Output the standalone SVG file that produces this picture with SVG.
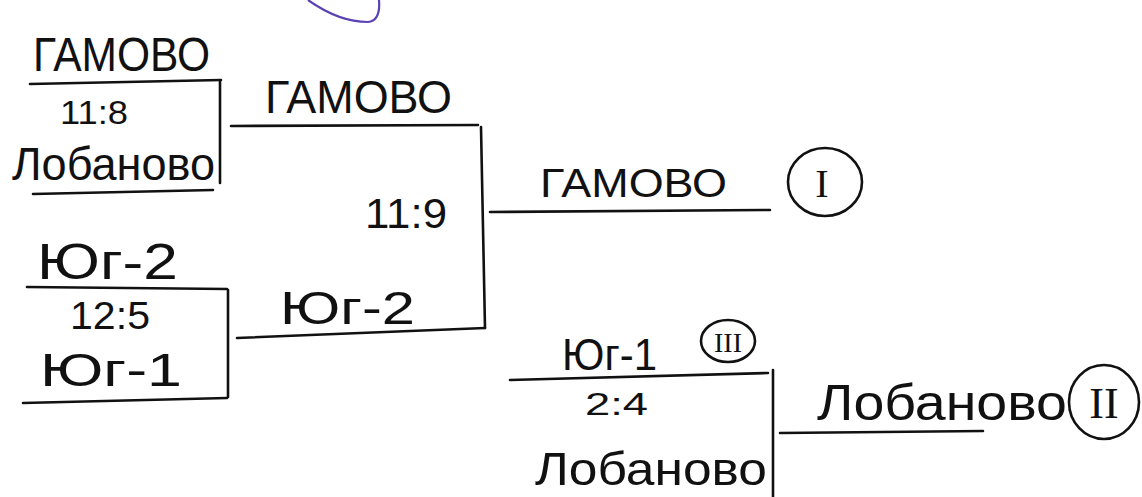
<svg xmlns="http://www.w3.org/2000/svg" width="1142" height="497" viewBox="0 0 1142 497">
<style>
.ln{stroke:#111;stroke-width:2.6;fill:none;stroke-linecap:round;stroke-linejoin:round}
.t{font-family:"Liberation Sans","DejaVu Sans",sans-serif;fill:#111}
.c{stroke:#111;stroke-width:2.6;fill:none}
.r{font-family:"Liberation Serif","DejaVu Serif",serif;fill:#111;text-anchor:middle}
</style>
<rect width="1142" height="497" fill="#ffffff"/>
<path d="M308 0 C325 12 345 22 368 22 C378 21 380 12 379 0" fill="none" stroke="#5b42b5" stroke-width="2.2"/>

<g id="match1">
  <text class="t" x="33" y="71" font-size="48" textLength="177" lengthAdjust="spacingAndGlyphs">ГАМОВО</text>
  <path class="ln" d="M30 84 L221 80"/>
  <path class="ln" d="M220 81 L220 183"/>
  <text class="t" x="60" y="124" font-size="34" textLength="68" lengthAdjust="spacingAndGlyphs">11:8</text>
  <text class="t" x="12" y="180" font-size="46" textLength="203" lengthAdjust="spacingAndGlyphs">Лобаново</text>
  <path class="ln" d="M33 194 L213 190"/>
</g>

<g id="match2">
  <text class="t" x="37" y="279" font-size="50" textLength="141" lengthAdjust="spacingAndGlyphs">Юг-2</text>
  <path class="ln" d="M27 287 L227 289"/>
  <path class="ln" d="M228 290 L228 397"/>
  <text class="t" x="70" y="329" font-size="38" textLength="80" lengthAdjust="spacingAndGlyphs">12:5</text>
  <text class="t" x="40" y="386" font-size="46" textLength="142" lengthAdjust="spacingAndGlyphs">Юг-1</text>
  <path class="ln" d="M23 403 L227 398"/>
</g>

<g id="semifinal">
  <text class="t" x="265" y="113" font-size="46" textLength="187" lengthAdjust="spacingAndGlyphs">ГАМОВО</text>
  <text class="t" x="365" y="228" font-size="42" textLength="82" lengthAdjust="spacingAndGlyphs">11:9</text>
  <text class="t" x="280" y="324" font-size="46" textLength="135" lengthAdjust="spacingAndGlyphs">Юг-2</text>
  <path class="ln" d="M481 127 L485 328"/>
</g>

<g id="final">
  <text class="t" x="540" y="197" font-size="40" textLength="187" lengthAdjust="spacingAndGlyphs">ГАМОВО</text>
  <ellipse class="c" cx="825" cy="182" rx="37" ry="34"/>
  <text class="r" x="822" y="197" font-size="40">I</text>
</g>

<g id="third-place">
  <text class="t" x="562" y="370" font-size="44" textLength="95" lengthAdjust="spacingAndGlyphs">Юг-1</text>
  <ellipse class="c" cx="728" cy="341" rx="27" ry="21"/>
  <text class="r" x="728" y="352" font-size="28">III</text>
  <path class="ln" d="M510 380 L768 373"/>
  <path class="ln" d="M773 370 L773 497"/>
  <text class="t" x="585" y="415" font-size="32" textLength="63" lengthAdjust="spacingAndGlyphs">2:4</text>
  <text class="t" x="535" y="485" font-size="46" textLength="232" lengthAdjust="spacingAndGlyphs">Лобаново</text>
</g>

<g id="second-place">
  <text class="t" x="817" y="420" font-size="50" textLength="250" lengthAdjust="spacingAndGlyphs">Лобаново</text>
  <ellipse class="c" cx="1104" cy="402" rx="35" ry="37"/>
  <text class="r" x="1104" y="418" font-size="44">II</text>
</g>

<g id="connectors">
  <path class="ln" d="M231 126 L478 125"/>
  <path class="ln" d="M237 338 L485 328"/>
  <path class="ln" d="M490 212 L770 210"/>
  <path class="ln" d="M780 433 L983 431"/>
</g>
</svg>
